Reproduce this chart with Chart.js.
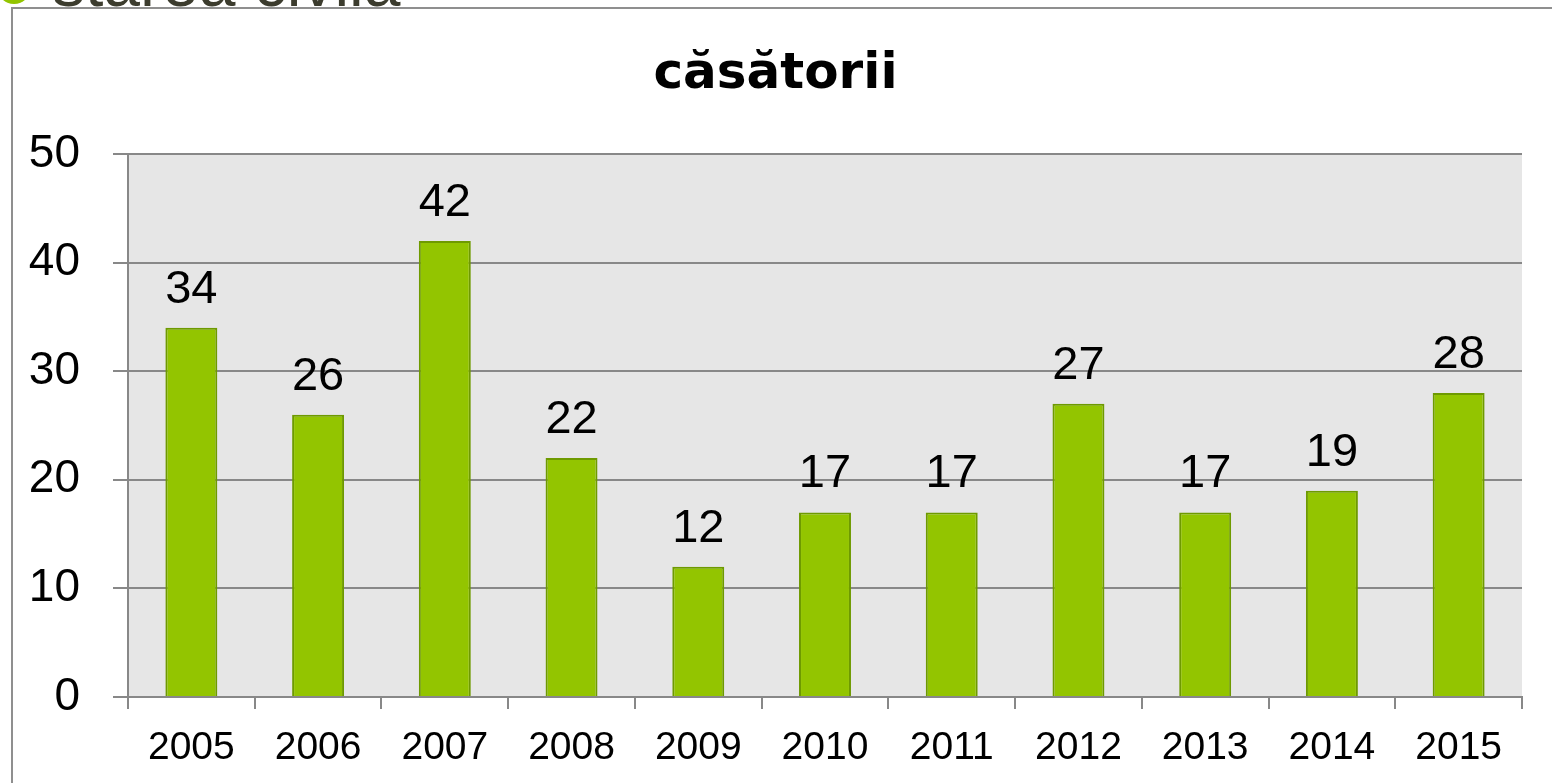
<!DOCTYPE html>
<html>
<head>
<meta charset="utf-8">
<script src="https://cdn.jsdelivr.net/npm/chart.js@4.4.1/dist/chart.umd.min.js"></script>
<style>
    html, body { margin: 0; padding: 0; background: #fff; overflow: hidden; }
    body { width: 1552px; height: 783px; position: relative; overflow: hidden; }
    .bullet {
        position: absolute; left: -3px; top: -30px;
        width: 34px; height: 34px; border-radius: 50%;
        background: #93c500;
    }
    .heading {
        position: absolute; left: 52px; top: -50px;
        font-family: "Liberation Sans", Arial, sans-serif;
        font-size: 66px; line-height: 1; color: #3c3c2e;
        white-space: nowrap;
    }
    .frame {
        position: absolute; left: 11px; top: 7px;
        width: 1600px; height: 800px;
        border-left: 2px solid #8f8f8f;
        border-top: 2px solid #8f8f8f;
        background: #fff;
    }
    #chart { position: absolute; left: 13px; top: 9px; }
</style>
</head>
<body>
<div class="bullet"></div>
<div class="heading">starea civilă</div>
<div class="frame"></div>
<canvas id="chart" width="1544" height="774"></canvas>

<script>
// --- Chart data ---
const chartTitle = "căsătorii";
const years = ["2005", "2006", "2007", "2008", "2009", "2010", "2011", "2012", "2013", "2014", "2015"];
const marriages = [34, 26, 42, 22, 12, 17, 17, 27, 17, 19, 28];
const yTicks = [0, 10, 20, 30, 40, 50];

const gridColor = "#888888";

// grey background behind the plot only
const plotBackground = {
    id: "plotBackground",
    beforeDraw(chart) {
        const { ctx, chartArea } = chart;
        ctx.save();
        ctx.fillStyle = "#e6e6e6";
        ctx.fillRect(chartArea.left, chartArea.top, chartArea.right - chartArea.left, chartArea.bottom - chartArea.top);
        ctx.restore();
    }
};

// value labels above each bar
const barValues = {
    id: "barValues",
    afterDatasetsDraw(chart) {
        const { ctx } = chart;
        const meta = chart.getDatasetMeta(0);
        ctx.save();
        ctx.font = "47px 'Liberation Sans', Arial, sans-serif";
        ctx.fillStyle = "#000";
        ctx.textAlign = "center";
        ctx.textBaseline = "alphabetic";
        meta.data.forEach((bar, i) => {
            ctx.fillText(String(marriages[i]), bar.x, bar.y - 25);
        });
        ctx.restore();
    }
};

const ctx = document.getElementById("chart").getContext("2d");

new Chart(ctx, {
    type: "bar",
    data: {
        labels: years,
        datasets: [{
            label: chartTitle,
            data: marriages,
            backgroundColor: "#93c500",
            borderColor: "#6e9a00",
            borderWidth: 2,
            barPercentage: 0.41,
            categoryPercentage: 1
        }]
    },
    options: {
        responsive: false,
        animation: false,
        events: [],
        // left padding pushes the title towards its place; y labels still fit in the scale box
        layout: { padding: { left: 16, right: 35, top: 0, bottom: 0 } },
        plugins: {
            legend: { display: false },
            tooltip: { enabled: false },
            title: {
                display: true,
                text: chartTitle,
                color: "#000",
                font: { family: "'DejaVu Sans', sans-serif", size: 50, weight: "bold" },
                padding: { top: 36, bottom: 49 }
            }
        },
        scales: {
            x: {
                grid: {
                    offset: true,
                    drawOnChartArea: false,
                    drawTicks: true,
                    tickLength: 12,
                    color: gridColor,
                    lineWidth: 2
                },
                border: { display: true, color: gridColor, width: 2 },
                ticks: {
                    color: "#000",
                    padding: 16,
                    font: { family: "'Liberation Sans', Arial, sans-serif", size: 39 }
                },
                afterFit(scale) { scale.height = 86; }
            },
            y: {
                min: 0,
                max: 50,
                afterBuildTicks(scale) {
                    scale.ticks = yTicks.map(v => ({ value: v }));
                },
                grid: {
                    color: gridColor,
                    lineWidth: 2,
                    tickLength: 15
                },
                border: { display: true, color: gridColor, width: 2 },
                ticks: {
                    color: "#000",
                    padding: 33,
                    font: { family: "'Liberation Sans', Arial, sans-serif", size: 46 }
                },
                afterFit(scale) { scale.width = 99; }
            }
        }
    },
    plugins: [plotBackground, barValues]
});
</script>
</body>
</html>
